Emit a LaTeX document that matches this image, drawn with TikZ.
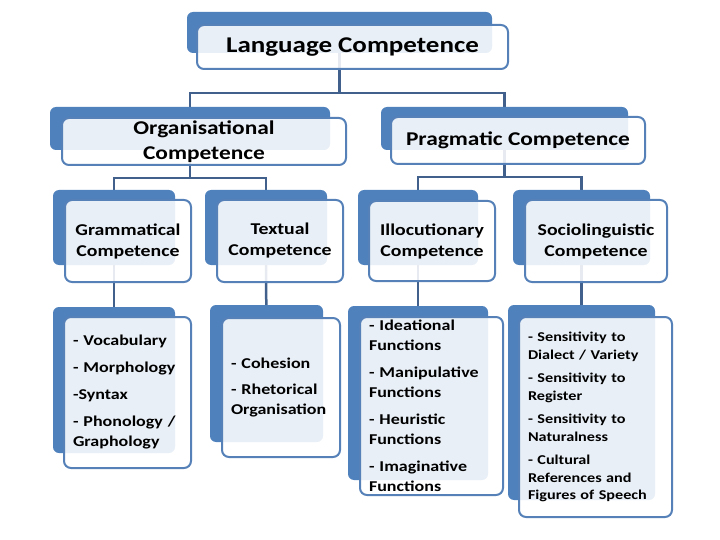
\documentclass[tikz,border=0pt]{standalone}
\usepackage{fontspec}
\setmainfont{Carlito}[FakeStretch=1.2]
\usetikzlibrary{backgrounds}

\definecolor{panelblue}{HTML}{4F81BD}
\definecolor{edgeblue}{HTML}{5580B8}
\definecolor{linkblue}{HTML}{41618C}

\tikzset{
 backpanel/.style={fill=panelblue, rounded corners=6pt, inner sep=0pt},
 frontpanel/.style={draw=edgeblue, line width=2pt, fill=white, fill opacity=0.88,
   text opacity=1, rounded corners=7pt, inner sep=0pt, align=center},
 itempanel/.style={frontpanel, inner xsep=9pt, align=left},
 link/.style={draw=linkblue, line width=2.5pt},
}

\begin{document}
\begin{tikzpicture}[x=1pt, y=-1pt]
\useasboundingbox (0,0) rectangle (720,540);

% Language
\node[backpanel, minimum width=305pt, minimum height=41pt] (langbg) at (339.5,32.5) {};
\node[frontpanel, minimum width=311pt, minimum height=44pt, font=\fontsize{22.5}{28}\bfseries\selectfont] (lang) at (352.5,47) {Language Competence};

% Organisational / Pragmatic
\node[backpanel, minimum width=280pt, minimum height=43pt] (orgbg) at (190,128.5) {};
\node[frontpanel, minimum width=284pt, minimum height=47pt, font=\fontsize{19.5}{25}\bfseries\selectfont] (org) at (204,141.5) {Organisational\\Competence};

\node[backpanel, minimum width=247pt, minimum height=43pt] (pragbg) at (504.5,128.5) {};
\node[frontpanel, minimum width=254pt, minimum height=47pt, font=\fontsize{19.5}{25}\bfseries\selectfont] (prag) at (518,140.5) {Pragmatic Competence};

% Third row
\node[backpanel, minimum width=122pt, minimum height=75pt] (grambg) at (114,227.5) {};
\node[frontpanel, minimum width=126pt, minimum height=82pt, font=\fontsize{16.5}{21}\bfseries\selectfont] (gram) at (128,241) {Grammatical\\Competence};

\node[backpanel, minimum width=122pt, minimum height=75pt] (textbg) at (266,227.5) {};
\node[frontpanel, minimum width=126pt, minimum height=82pt, font=\fontsize{16.5}{21}\bfseries\selectfont] (text) at (280,241) {Textual\\Competence};

\node[backpanel, minimum width=120pt, minimum height=75pt] (illobg) at (418,227.5) {};
\node[frontpanel, minimum width=126pt, minimum height=80pt, font=\fontsize{16.5}{21}\bfseries\selectfont] (illo) at (432,241) {Illocutionary\\Competence};

\node[backpanel, minimum width=137pt, minimum height=75pt] (sociobg) at (581.5,227.5) {};
\node[frontpanel, minimum width=142pt, minimum height=82pt, font=\fontsize{16.5}{21}\bfseries\selectfont] (socio) at (596,241) {Sociolinguistic\\Competence};

% Lists
\node[backpanel, minimum width=122pt, minimum height=146pt] (gramlistbg) at (114,380) {};
\node[itempanel, minimum width=127pt, minimum height=151pt, text width=109pt, font=\fontsize{15}{20}\bfseries\selectfont] (gramlist) at (127.5,392.5)
 {- Vocabulary\\[7pt]- Morphology\\[7pt]-Syntax\\[7pt]- Phonology /\\Graphology};

\node[backpanel, minimum width=113pt, minimum height=137pt] (textlistbg) at (266.5,373.5) {};
\node[itempanel, minimum width=118pt, minimum height=139pt, text width=100pt, font=\fontsize{15}{19.5}\bfseries\selectfont] (textlist) at (281,387.5)
 {- Cohesion\\[7pt]- Rhetorical\\Organisation};

\node[backpanel, minimum width=140pt, minimum height=174pt] (illolistbg) at (418,393) {};
\node[itempanel, minimum width=143pt, minimum height=178pt, text width=125pt, font=\fontsize{15}{20}\bfseries\selectfont] (illolist) at (431.5,406)
 {- Ideational\\Functions\\[7pt]- Manipulative\\Functions\\[7pt]- Heuristic\\Functions\\[7pt]- Imaginative\\Functions};

\node[backpanel, minimum width=147pt, minimum height=195pt] (sociolistbg) at (581.5,402.5) {};
\node[itempanel, minimum width=153pt, minimum height=200pt, text width=135pt, font=\fontsize{13.5}{17.5}\bfseries\selectfont] (sociolist) at (595.5,417)
 {- Sensitivity to\\Dialect / Variety\\[6pt]- Sensitivity to\\Register\\[6pt]- Sensitivity to\\Naturalness\\[6pt]- Cultural\\References and\\Figures of Speech};

% connectors
\coordinate (bar1) at (339.5,93);
\coordinate (bar2) at (190,178);
\coordinate (bar3) at (504.5,177);
\begin{scope}[on background layer]
\draw[link] (langbg.center) -- (bar1);
\draw[link] (orgbg.center) |- (bar1) -| (pragbg.center);
\draw[link] (orgbg.center) -- (bar2);
\draw[link] (grambg.center) |- (bar2) -| (textbg.center);
\draw[link] (pragbg.center) -- (bar3);
\draw[link] (illobg.center) |- (bar3) -| (sociobg.center);
\draw[link] (grambg.center) -- (gramlistbg.center);
\draw[link] (textbg.center) -- (textlistbg.center);
\draw[link] (illobg.center) -- (illolistbg.center);
\draw[link] (sociobg.center) -- (sociolistbg.center);
\end{scope}

\end{tikzpicture}
\end{document}
